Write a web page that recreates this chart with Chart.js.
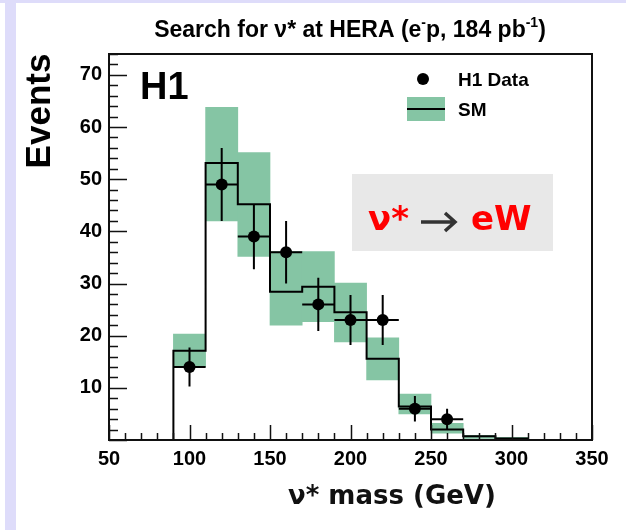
<!DOCTYPE html>
<html>
<head>
<meta charset="utf-8">
<script src="https://cdn.jsdelivr.net/npm/chart.js@4.4.1/dist/chart.umd.min.js"></script>
<style>
    html, body { margin: 0; padding: 0; background: #fff; }
    #wrap { width: 626px; height: 530px; }
</style>
</head>
<body>
<div id="wrap"><canvas id="nuChart" width="626" height="530"></canvas></div>
<script>
// nu* mass bins (GeV), 20 GeV wide
const binEdges = [90, 110, 130, 150, 170, 190, 210, 230, 250, 270, 290, 310];
const binCenters = [100, 120, 140, 160, 180, 200, 220, 240, 260, 280, 300];
// SM expectation and its error band
const smValues = [17.1, 53.1, 45.2, 28.4, 29.4, 24.5, 15.6, 6.4, 2.0, 0.7, 0.3];
const smLow = [14.0, 42.0, 35.2, 22.0, 22.7, 18.8, 11.5, 5.0, 1.3, 0.3, 0.1];
const smHigh = [20.3, 63.8, 55.1, 36.1, 36.1, 30.1, 19.6, 8.8, 3.2, 0.9, 0.5];
// H1 data
const dataMass = [100, 120, 140, 160, 180, 200, 220, 240, 260];
const dataEvents = [14, 49, 39, 36, 26, 23, 23, 6, 4];
// axis ticks
const xTicks = [50, 100, 150, 200, 250, 300, 350];
const yTicks = [10, 20, 30, 40, 50, 60, 70];

const halfBin = (binEdges[1] - binEdges[0]) / 2;
const tickFont = { family: '"Liberation Sans", Arial, sans-serif', size: 20, weight: 'bold' };

// histogram line points (step before)
let smLine = [{ x: binEdges[0], y: 0 }];
for (let i = 0; i < smValues.length; i++) {
    smLine.push({ x: binEdges[i], y: smValues[i] });
}
smLine.push({ x: binEdges[binEdges.length - 1], y: 0 });

// frame, inner ticks, error bars, texts
const decoPlugin = {
    id: 'deco',
    beforeDraw(chart) {
        const ctx = chart.ctx;
        ctx.save();
        ctx.fillStyle = '#ffffff';
        ctx.fillRect(0, 0, chart.width, chart.height);
        ctx.fillStyle = '#dedcfa';
        ctx.fillRect(0, 0, chart.width, 3);
        ctx.fillRect(5, 0, 11, chart.height);
        ctx.restore();
    },
    afterDatasetsDraw(chart) {
        const ctx = chart.ctx;
        const xs = chart.scales.x;
        const ys = chart.scales.y;
        const a = chart.chartArea;
        ctx.save();

        // error bars
        ctx.strokeStyle = '#000';
        ctx.lineWidth = 2;
        for (let i = 0; i < dataMass.length; i++) {
            let err = Math.sqrt(dataEvents[i]);
            let px = xs.getPixelForValue(dataMass[i]);
            let py = ys.getPixelForValue(dataEvents[i]);
            ctx.beginPath();
            ctx.moveTo(px, ys.getPixelForValue(dataEvents[i] - err));
            ctx.lineTo(px, ys.getPixelForValue(dataEvents[i] + err));
            ctx.moveTo(xs.getPixelForValue(dataMass[i] - halfBin), py);
            ctx.lineTo(xs.getPixelForValue(dataMass[i] + halfBin), py);
            ctx.stroke();
        }

        // frame
        ctx.lineWidth = 2;
        ctx.strokeStyle = '#111';
        ctx.strokeRect(a.left, a.top, a.right - a.left, a.bottom - a.top);

        // ticks, pointing inward
        ctx.lineWidth = 1.5;
        ctx.beginPath();
        for (let v = 0; v <= ys.max; v += 2) {
            let py = Math.round(ys.getPixelForValue(v)) + 0.5;
            let len = v % 10 === 0 ? 18 : 9;
            ctx.moveTo(a.left, py);
            ctx.lineTo(a.left + len, py);
        }
        for (let v = xs.min; v <= xs.max; v += 10) {
            let px = Math.round(xs.getPixelForValue(v)) + 0.5;
            let len = v % 50 === 0 ? 15 : 7;
            ctx.moveTo(px, a.bottom);
            ctx.lineTo(px, a.bottom - len);
        }
        ctx.stroke();

        // title
        ctx.fillStyle = '#000';
        ctx.textBaseline = 'alphabetic';
        let big = 'bold 23px "Liberation Sans", Arial, sans-serif';
        let small = 'bold 14px "Liberation Sans", Arial, sans-serif';
        let parts = [
            ['Search for \u03bd* at HERA (e', big, 0],
            ['-', small, -10],
            ['p, 184 pb', big, 0],
            ['-1', small, -10],
            [')', big, 0]
        ];
        let total = 0;
        parts.forEach(p => { ctx.font = p[1]; total += ctx.measureText(p[0]).width; });
        let tx = 350 - total / 2;
        parts.forEach(p => {
            ctx.font = p[1];
            ctx.fillText(p[0], tx, 37 + p[2]);
            tx += ctx.measureText(p[0]).width;
        });

        // H1 label
        ctx.font = 'bold 38px "Liberation Sans", Arial, sans-serif';
        ctx.fillText('H1', 140, 99);

        // legend
        ctx.beginPath();
        ctx.arc(423, 79, 6, 0, Math.PI * 2);
        ctx.fill();
        ctx.fillStyle = 'rgb(133,197,164)';
        ctx.fillRect(407, 97, 38, 24);
        ctx.strokeStyle = '#000';
        ctx.lineWidth = 2;
        ctx.beginPath();
        ctx.moveTo(407, 109);
        ctx.lineTo(445, 109);
        ctx.stroke();
        ctx.fillStyle = '#000';
        ctx.font = 'bold 19px "Liberation Sans", Arial, sans-serif';
        ctx.fillText('H1 Data', 458, 86);
        ctx.fillText('SM', 458, 116);

        // y axis title
        ctx.save();
        ctx.translate(50, 111);
        ctx.rotate(-Math.PI / 2);
        ctx.textAlign = 'center';
        ctx.font = 'bold 35px "Liberation Sans", Arial, sans-serif';
        ctx.fillText('Events', 0, 0);
        ctx.restore();

        // decay channel box
        ctx.fillStyle = '#e8e8e8';
        ctx.fillRect(352, 174, 201, 77);
        ctx.font = 'bold 34px "DejaVu Sans", sans-serif';
        ctx.fillStyle = '#ff0000';
        ctx.fillText('\u03bd*', 368, 230);
        // arrow
        ctx.strokeStyle = '#333';
        ctx.lineWidth = 3.5;
        ctx.beginPath();
        ctx.moveTo(421, 222);
        ctx.lineTo(454, 222);
        ctx.moveTo(445, 213);
        ctx.lineTo(455, 222);
        ctx.lineTo(445, 231);
        ctx.stroke();
        ctx.fillStyle = '#ff0000';
        ctx.font = 'bold 34px "DejaVu Sans", sans-serif';
        ctx.fillText('eW', 471, 230);

        // x axis title
        ctx.fillStyle = '#111';
        ctx.font = 'bold 26px "DejaVu Sans", sans-serif';
        ctx.fillText('\u03bd* mass (GeV)', 288, 504);

        ctx.restore();
    }
};

new Chart('nuChart', {
    type: 'bar',
    data: {
        datasets: [{
            type: 'line',
            label: 'H1 Data',
            data: dataMass.map((m, i) => ({ x: m, y: dataEvents[i] })),
            showLine: false,
            pointRadius: 6,
            pointBackgroundColor: '#000',
            pointBorderColor: '#000',
            pointBorderWidth: 0,
            order: 0
        }, {
            type: 'line',
            label: 'SM',
            data: smLine,
            stepped: 'before',
            borderColor: '#000',
            borderWidth: 2,
            pointRadius: 0,
            fill: false,
            order: 1
        }, {
            type: 'bar',
            label: 'SM band',
            data: binCenters.map((c, i) => ({ x: c, y: [smLow[i], smHigh[i]] })),
            backgroundColor: 'rgb(133,197,164)',
            borderWidth: 0,
            barPercentage: 1,
            categoryPercentage: 1,
            grouped: false,
            order: 2
        }]
    },
    options: {
        responsive: false,
        animation: false,
        devicePixelRatio: 1,
        layout: { padding: { left: 0, top: 54, right: 34, bottom: 0 } },
        plugins: {
            legend: { display: false },
            tooltip: { enabled: false }
        },
        scales: {
            x: {
                type: 'linear',
                min: 50,
                max: 350,
                offset: false,
                grid: { display: false, drawTicks: false, offset: false },
                border: { display: false },
                ticks: {
                    stepSize: 50,
                    color: '#000',
                    font: tickFont,
                    padding: 7,
                    maxRotation: 0,
                    callback: v => xTicks.includes(v) ? v : ''
                },
                afterFit: s => { s.height = 90; }
            },
            y: {
                type: 'linear',
                min: 0,
                max: 74,
                grid: { display: false, drawTicks: false },
                border: { display: false },
                ticks: {
                    stepSize: 10,
                    includeBounds: false,
                    color: '#000',
                    font: tickFont,
                    padding: 7,
                    callback: v => yTicks.includes(v) ? v : ''
                },
                afterFit: s => { s.width = 109; }
            }
        }
    },
    plugins: [decoPlugin]
});
</script>
</body>
</html>
